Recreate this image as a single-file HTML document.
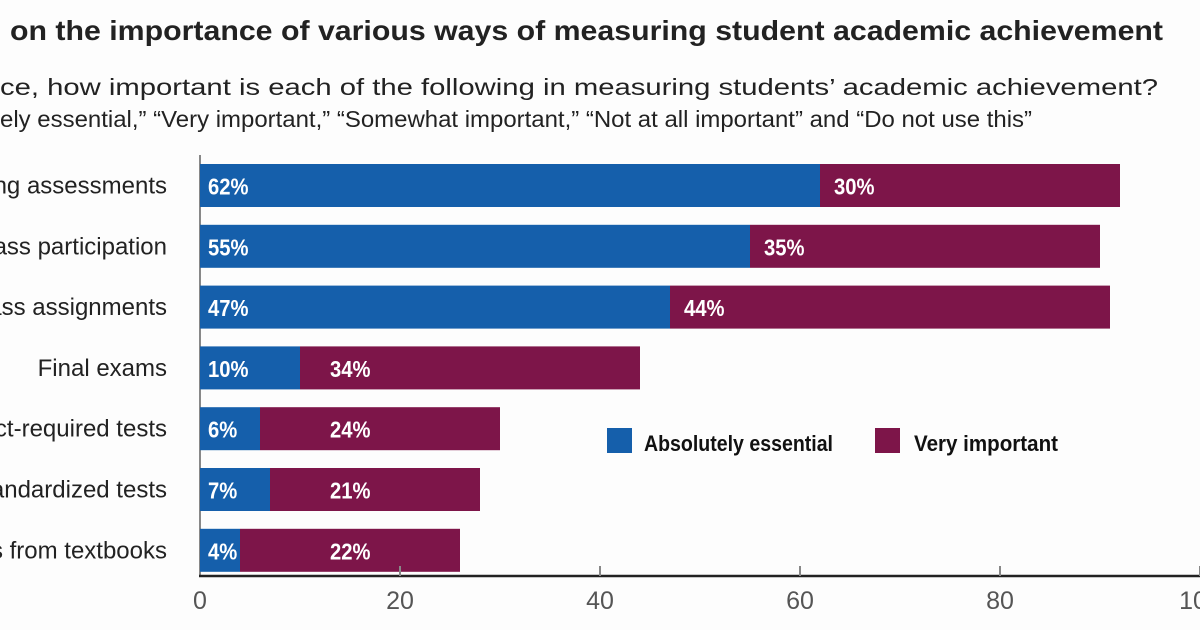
<!DOCTYPE html>
<html><head><meta charset="utf-8"><style>
body{margin:0;background:#fdfdfd;}
svg{display:block;font-family:"Liberation Sans",sans-serif;}
</style></head><body>
<svg width="1200" height="630">
<rect width="1200" height="630" fill="#fdfdfd"/>
<text x="10" y="40" textLength="1153" lengthAdjust="spacingAndGlyphs" font-size="28" font-weight="bold" fill="#222">on the importance of various ways of measuring student academic achievement</text>
<text x="0" y="95" textLength="1158" lengthAdjust="spacingAndGlyphs" font-size="23" fill="#222">ce, how important is each of the following in measuring students’ academic achievement?</text>
<text x="0" y="127" textLength="1032" lengthAdjust="spacingAndGlyphs" font-size="23" fill="#222">ely essential,” “Very important,” “Somewhat important,” “Not at all important” and “Do not use this”</text>
<g id="plot"></g>
<rect x="607" y="428" width="25" height="25" fill="#155fab"/>
<text x="644" y="451" textLength="189" lengthAdjust="spacingAndGlyphs" font-size="22" font-weight="bold" fill="#111">Absolutely essential</text>
<rect x="875" y="428" width="25" height="25" fill="#7d1549"/>
<text x="914" y="451" textLength="144" lengthAdjust="spacingAndGlyphs" font-size="22" font-weight="bold" fill="#111">Very important</text>
</svg>
<script>
const categories=["Ongoing assessments","Class participation","Class assignments","Final exams","District-required tests","Standardized tests","Tests from textbooks"];
const essential=[62,55,47,10,6,7,4];
const important=[30,35,44,34,24,21,22];
const ticks=[0,20,40,60,80,100];
const NS="http://www.w3.org/2000/svg";
const g=document.getElementById('plot');
const x0=200,sc=10,top0=164,pitch=60.8,bh=43,axisY=576;
const X=v=>x0+v*sc;
function el(t,a,txt){const e=document.createElementNS(NS,t);for(const k in a)e.setAttribute(k,a[k]);if(txt!=null)e.textContent=txt;g.appendChild(e);return e;}
let e=el('line',{x1:x0,y1:155,x2:x0,y2:axisY,stroke:'#888','stroke-width':2});


categories.forEach((c,i)=>{
 const y=top0+i*pitch;
 let t=el('text',{x:167,y:y+bh/2+8,'text-anchor':'end','font-size':24,fill:'#222'},c);
 
 
 let b=el('rect',{x:X(0),y:y,width:essential[i]*sc,height:bh,fill:'#155fab'});
 
 
 let b2=el('rect',{x:X(essential[i]),y:y,width:important[i]*sc,height:bh,fill:'#7d1549'});
 
 
 let l1=el('text',{x:X(0)+8,y:y+bh/2+9,'font-size':23,'font-weight':'bold',fill:'#fff',transform:`translate(${X(0)+8},0) scale(0.88,1) translate(${-(X(0)+8)},0)`},essential[i]+'%');
 
 
 const lx=Math.max(X(essential[i])+14,330);
 let l2=el('text',{x:lx,y:y+bh/2+9,'font-size':23,'font-weight':'bold',fill:'#fff',transform:`translate(${lx},0) scale(0.88,1) translate(${-lx},0)`},important[i]+'%');
 
 
});
e=el('line',{x1:x0-1,y1:axisY,x2:1200,y2:axisY,stroke:'#222','stroke-width':2.5});


ticks.forEach(v=>{
 if(v>0){let tk=el('line',{x1:X(v),y1:566,x2:X(v),y2:axisY,stroke:'#888','stroke-width':2});
 
 }
 let tl=el('text',{x:X(v),y:609,'text-anchor':'middle','font-size':25,fill:'#555'},v);
 
 
});
</script>
</body></html>
